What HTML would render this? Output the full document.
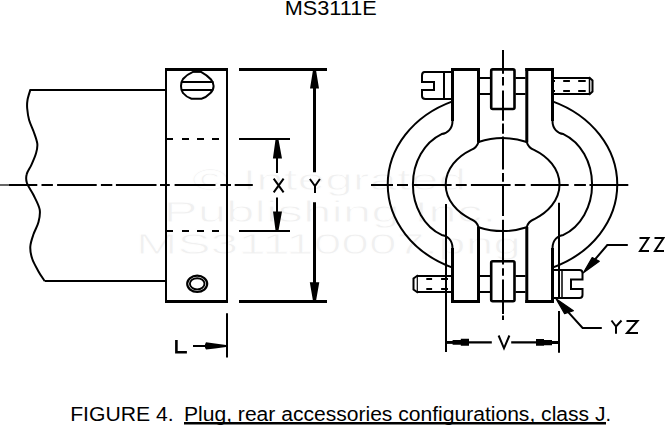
<!DOCTYPE html>
<html><head><meta charset="utf-8">
<style>
html,body{margin:0;padding:0;background:#fff;}
body{width:665px;height:426px;overflow:hidden;position:relative;}
svg{position:absolute;left:0;top:0;}
.t{font-family:"Liberation Sans",sans-serif;}
</style></head>
<body>
<svg width="665" height="426" viewBox="0 0 665 426">
<rect width="665" height="426" fill="#fff"/>
<!-- watermark -->
<g class="t" fill="#f0f0f0" font-size="30" stroke="#fff" stroke-width="0.8">
<text x="192" y="189.8" textLength="274" lengthAdjust="spacingAndGlyphs">© Integrated</text>
<text x="163.5" y="221.5" textLength="333" lengthAdjust="spacingAndGlyphs">Publishing Inc.</text>
<text x="136" y="253.6" textLength="385" lengthAdjust="spacingAndGlyphs">MS31110007.png</text>
</g>
<g fill="none" stroke="#000" stroke-width="2" stroke-linecap="butt" stroke-linejoin="miter">
<!-- ===== LEFT OBJECT ===== -->
<path d="M29.5,90 H166 M44.6,281 H166"/>
<path d="M30.3,90.0 C29.8,91.7 28.0,96.9 27.5,100.0 C27.0,103.1 26.9,105.2 27.2,108.5 C27.5,111.8 28.0,116.1 29.1,120.0 C30.2,123.9 32.4,128.1 33.8,132.0 C35.2,135.9 36.9,140.2 37.3,143.7 C37.7,147.2 37.1,149.5 36.1,153.0 C35.1,156.5 33.0,161.3 31.4,164.8 C29.8,168.3 27.4,171.2 26.7,174.2 C25.9,177.2 25.8,179.5 26.9,183.0 C28.0,186.5 31.4,190.6 33.5,195.0 C35.6,199.4 38.9,205.1 39.7,209.6 C40.5,214.1 39.5,217.9 38.5,222.0 C37.5,226.1 34.9,230.2 33.5,234.3 C32.1,238.4 30.5,242.6 30.3,246.7 C30.1,250.8 30.9,254.9 32.3,259.0 C33.7,263.1 36.5,267.7 38.5,271.4 C40.5,275.1 43.6,279.4 44.6,281.0"/>
<path d="M166,68 V302.5 M227,68 V302.5"/>
<path d="M165,69.5 H228 M165,301.5 H228" stroke-width="3"/>
<path d="M193,71.8 H201 C205,74 208.5,76.5 211,79.5 C213,82 213.6,84 213.6,86 C213.6,88.5 212.5,91 210.5,93 C208,95.5 204.5,98 201.5,98.8 H191.5 C188,97.5 185,95.5 183,93 C181.3,91 181,88 181,86 C181,83.5 181.5,81 183,79 C185.5,76 189,73.5 193,71.8 Z"/>
<path d="M193,71 H201" stroke-width="3"/>
<path d="M181,82 H213.4 M181,90 H213.2"/>
<ellipse cx="197.2" cy="283.8" rx="10" ry="8.1" stroke-width="2.2"/>
<ellipse cx="197.2" cy="283.8" rx="7.3" ry="5.6" stroke-width="1.9"/>
<path d="M166,139 H173 M182,139 H189 M197,139 H204 M212,139 H219 M166,231 H173 M182,231 H189 M197,231 H204 M212,231 H219"/>
<!-- centerline left -->
<path d="M0,185 H9" stroke-width="1.2"/>
<path d="M9,185 H37.3 M41.5,185 H52.9 M57.1,185 H96.7 M100.9,185 H112.3 M115.9,185 H156.5 M160,185 H169.8 M174.6,185 H215.5 M220.3,185 H231 M234.7,185 H252.8"/>
<!-- extension lines -->
<path d="M239,69.5 H327 M239,301.5 H327" stroke-width="3"/>
<path d="M239,139 H290 M239,231 H290"/>
<!-- X dim -->
<path d="M277,139 V173.1 M277,197.5 V231"/>
<path d="M275.6,139 H278.4 L282,158.6 H272.9 Z M275.6,231 H278.4 L282,211.6 H273 Z" fill="#000" stroke="none"/>
<path d="M273.7,178.6 L283.6,192.4 M283.6,178.6 L273.7,192.4"/>
<!-- Y dim -->
<path d="M314.5,69.5 V172.2 M314.5,202.2 V301.5" stroke-width="3"/>
<path d="M313,70 H316 L319,88.6 H310 Z M313,301 H316 L319.3,282.3 H309.8 Z" fill="#000" stroke="none"/>
<path d="M309.9,179 L315,186 L319.9,179 M315,186 V193"/>
<!-- L dim -->
<path d="M227,313.3 V357.4"/>
<path d="M193,346 H226"/>
<path d="M206,342.2 L215,343.4 L226,345 V347 L215,348.6 L206,349.6 Q203.5,346 206,342.2 Z" fill="#000" stroke="none"/>
<path d="M176.4,340 V352.3 H186.9" stroke-width="2.6"/>

<!-- ===== RIGHT OBJECT ===== -->
<path d="M452.5,101.4 A106.8,90.4 0 0,0 452.5,267.6"/>
<path d="M552.5,101.4 A106.8,90.4 0 0,1 552.5,267.6"/>
<path d="M452.5,121 C452.5,129 447,133.5 441.6,134.1 A45.7,54.3 0 0,0 441.6,234.9 C447,235.5 452.5,240 452.5,248"/>
<path d="M552.5,121 C552.5,129 558,133.5 563.4,134.1 A45.7,54.3 0 0,1 563.4,234.9 C558,235.5 552.5,240 552.5,248"/>
<!-- ears -->
<path d="M452.5,68 V121 M452.5,248 V303 M552.5,68 V121 M552.5,248 V303 M478.5,68 V142.5 M478.5,227 V303 M526.8,68 V142.5 M526.8,227 V303" stroke-width="3"/>
<path d="M451,69.5 H480 M525.3,69.5 H554 M451,301.5 H480 M525.3,301.5 H554" stroke-width="3"/>
<!-- hole -->
<path d="M478.5,142 A78.3,78.3 0 0,1 526.7,142 M478.5,227.2 A78.3,78.3 0 0,0 526.7,227.2"/>
<path d="M478.5,142 Q476.8,147.8 471.2,149.9 A56.9,41.6 0 0,0 471.2,219.3 Q476.8,221.4 478.5,227.2"/>
<path d="M526.7,142 Q528.4,147.8 534,149.9 A56.9,41.6 0 0,1 534,219.3 Q528.4,221.4 526.7,227.2"/>
<!-- center blocks -->
<rect x="491.2" y="69.4" width="23.3" height="39.6" rx="1.5" stroke-width="2.6"/>
<rect x="491.2" y="261.3" width="23.3" height="39.9" rx="1.5" stroke-width="2.6"/>
<!-- shafts -->
<path d="M480,78 H490 M480,94 H490 M515.5,78 H525.5 M515.5,94 H525.5 M480,276 H490 M480,292 H490 M515.5,276 H525.5 M515.5,292 H525.5"/>
<!-- top-left screw head -->
<path d="M452,72 H424.5 Q422,72 422,75.5 V82 H434 V90 H422 V96 Q422,99 425.5,99 H452"/>
<path d="M444,72 V99"/>
<!-- top-right stud -->
<path d="M553,78 H589.5 M553,94 H589.5"/>
<path d="M589.5,78 V94" stroke-width="1.5"/>
<path d="M589,77.3 L592.5,80.5 V91.5 L589,94.7"/>
<path d="M553,81 H555 M563.2,81 H569.9 M578.2,81 H585.7 M553,91 H555 M563.2,91 H569.9 M578.2,91 H585.7"/>
<!-- bottom-left stud -->
<path d="M452,276 H417.3 M452,292 H417.3"/>
<path d="M417.3,276 V292" stroke-width="1.2"/>
<path d="M418,275.3 L413.5,278.5 V289.5 L418,292.7"/>
<path d="M426.3,279 H432.1 M441.1,279 H448 M426.3,289 H432.1 M441.1,289 H448"/>
<!-- bottom-right screw head -->
<path d="M553,270 H579.5 Q582.5,270 582.5,273 V279.5 H571 V289 H582.5 V295 Q582.5,298 579.5,298 H553"/>
<path d="M562,270 V298" stroke-width="1.5"/>
<!-- vertical centerline -->
<path d="M503,50 V73.8 M503,77 V85.6 M503,90.6 V120.7 M503,123.5 V133.8 M503,136.6 V169.5 M503,173.1 V181.8 M503,184 V216 M503,219.8 V264.4 M503,268.2 V275.7 M503,279.4 V314 M503,315.4 V320"/>
<!-- horizontal centerline right -->
<path d="M371,185 H393 M397,185 H408 M412.9,185 H451.6 M455.8,185 H466.7 M470.9,185 H510.6 M514.8,185 H525.4 M530.8,185 H568.7 M574.2,185 H585.9 M589.5,185 H628.3"/>
<!-- V dim -->
<path d="M446,203.9 V352.1 M559,202.7 V297 M559,311.1 V352.7"/>
<path d="M446,342.4 H491.8 M511.2,342.4 H559" stroke-width="2.4"/>
<path d="M446.8,341 H452.6 V340 H460.8 V338.8 H469 V345.8 H460.8 V344.8 H452.6 V343.8 H446.8 Z M558,341 H552 V340 H544 V339 H536 V345.8 H544 V345.3 H552 V344 H558 Z" fill="#000" stroke="none"/>
<path d="M498.6,335.5 L504,348.3 L509.4,335.5"/>
<!-- ZZ leader -->
<path d="M627.8,245 H607.3 L586,270"/>
<path d="M583.4,272.8 L592.2,257.6 L599.3,261.2 Z" fill="#000" stroke="#000" stroke-width="1.2" stroke-linejoin="round"/>
<path d="M639.5,238 H648.5 L640,251 H649 M654.5,238 H663.5 L655,251 H664"/>
<!-- YZ leader -->
<path d="M558,300.8 L582.6,328 H601.8"/>
<path d="M556,298.8 L564.6,313.6 L573.4,310.8 Z" fill="#000" stroke="#000" stroke-width="1.2" stroke-linejoin="round"/>
<path d="M611.5,320.5 L616,326.5 L621.5,320.5 M616,326.5 V333.8 M626.5,321 H637.5 L627,333 H638"/>
</g>
<!-- labels -->
<g class="t" fill="#000">
<text x="284.8" y="15" font-size="20" textLength="92" lengthAdjust="spacingAndGlyphs">MS3111E</text>
<text x="70.2" y="421" font-size="20" textLength="103.5" lengthAdjust="spacingAndGlyphs">FIGURE 4.</text>
<text x="184" y="421" font-size="20" textLength="421.5" lengthAdjust="spacingAndGlyphs">Plug, rear accessories configurations, class J</text>
<rect x="184" y="422" width="422" height="2.5" fill="#000" stroke="none"/>
<text x="605.5" y="421" font-size="20">.</text>
</g>
</svg>
</body></html>
